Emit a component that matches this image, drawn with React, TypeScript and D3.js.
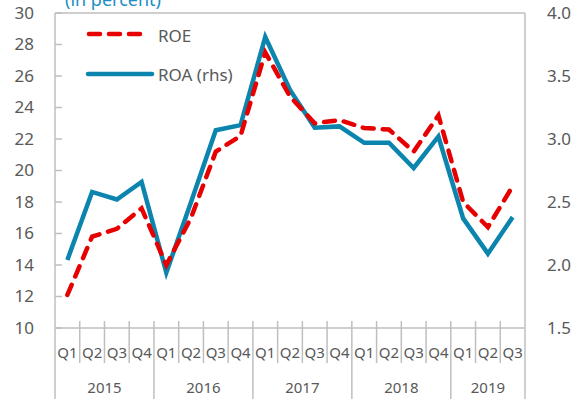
import React from "react";
import * as d3 from "d3";

const quarters = ["Q1","Q2","Q3","Q4","Q1","Q2","Q3","Q4","Q1","Q2","Q3","Q4","Q1","Q2","Q3","Q4","Q1","Q2","Q3"];
const years = ["2015","2016","2017","2018","2019"];
const yearCounts = [4,4,4,4,3];
const roe = [12.1,15.8,16.3,17.6,14.0,17.0,21.2,22.2,27.5,24.7,23.0,23.2,22.7,22.6,21.2,23.5,18.0,16.4,19.0];
const roa = [2.04,2.58,2.52,2.66,1.94,2.50,3.07,3.11,3.81,3.39,3.09,3.10,2.97,2.97,2.77,3.02,2.37,2.09,2.38];
const leftTicks = [10,12,14,16,18,20,22,24,26,28,30];
const rightTicks = [1.5,2.0,2.5,3.0,3.5,4.0];

const RED = "#E60000";
const BLUE = "#0B84AE";
const GRID = "#BFBFBF";
const TXT = "#595959";
const FONT = "'Noto Sans', 'Open Sans', sans-serif";

export default function App() {
  const W = 576, H = 405;
  const left = 55, right = 525, top = 13, bottom = 328;
  const x = d3.scaleBand<number>().domain(d3.range(quarters.length)).range([left, right]);
  const yL = d3.scaleLinear().domain([10, 30]).range([bottom, top]);
  const yR = d3.scaleLinear().domain([1.5, 4]).range([bottom, top]);
  const cx = (i: number) => (x(i) as number) + x.bandwidth() / 2;
  const lineL = d3.line<number>().x((_, i) => cx(i)).y((d) => yL(d));
  const lineR = d3.line<number>().x((_, i) => cx(i)).y((d) => yR(d));

  const yearBounds: number[] = [0];
  yearCounts.forEach((c, i) => yearBounds.push(yearBounds[i] + c));
  const xb = (k: number) => (k >= quarters.length ? right : (x(k) as number));

  return (
    <svg width={W} height={H} style={{ position: "absolute", left: 0, top: 0 }} fontFamily={FONT}>
      <rect width={W} height={H} fill="#fff" />
      <text x={65} y={6} fill="#1A8FC2" fontSize={18}>(in percent)</text>
      {/* frame */}
      <line x1={left} x2={right} y1={top} y2={top} stroke={GRID} strokeWidth={1.5} />
      <line x1={right} x2={right} y1={top} y2={bottom} stroke={GRID} strokeWidth={1.5} />
      <line x1={left} x2={left} y1={top} y2={bottom} stroke={GRID} strokeWidth={1.5} />
      <line x1={left} x2={right} y1={bottom} y2={bottom} stroke={GRID} strokeWidth={1.5} />
      {leftTicks.map((t) => (
        <g key={"l" + t}>
          <line x1={left} x2={left + 7} y1={yL(t)} y2={yL(t)} stroke={GRID} strokeWidth={1.5} />
          <text x={34} y={yL(t)} dy="0.35em" textAnchor="end" fill={TXT} fontSize={17}>{t}</text>
        </g>
      ))}
      {rightTicks.map((t) => (
        <text key={"r" + t} x={547} y={yR(t)} dy="0.35em" fill={TXT} fontSize={17}>{t.toFixed(1)}</text>
      ))}
      {/* quarter ticks */}
      {d3.range(1, quarters.length).filter((k) => !yearBounds.includes(k)).map((k) => (
        <line key={"q" + k} x1={xb(k)} x2={xb(k)} y1={321} y2={363} stroke={GRID} strokeWidth={1.5} />
      ))}
      {yearBounds.map((k) => (
        <line key={"y" + k} x1={xb(k)} x2={xb(k)} y1={k === 0 || k >= quarters.length ? bottom : 321} y2={399} stroke={GRID} strokeWidth={1.5} />
      ))}
      {quarters.map((q, i) => (
        <text key={"ql" + i} x={cx(i)} y={353} dy="0.35em" textAnchor="middle" fill={TXT} fontSize={15}>{q}</text>
      ))}
      {years.map((yv, j) => (
        <text key={"yl" + j} x={(xb(yearBounds[j]) + xb(yearBounds[j + 1])) / 2} y={388} dy="0.35em" textAnchor="middle" fill={TXT} fontSize={15}>{yv}</text>
      ))}
      {/* series */}
      <path d={lineR(roa) as string} fill="none" stroke={BLUE} strokeWidth={4.5} strokeLinejoin="miter" />
      <path d={lineL(roe) as string} fill="none" stroke={RED} strokeWidth={4.5} strokeDasharray="11,9" strokeLinecap="round" />
      {/* legend */}
      <line x1={89} x2={143} y1={34} y2={34} stroke={RED} strokeWidth={4.5} strokeDasharray="11,9" strokeLinecap="round" />
      <text x={158} y={36} dy="0.35em" fill={TXT} fontSize={17}>ROE</text>
      <line x1={88} x2={152} y1={74} y2={74} stroke={BLUE} strokeWidth={4.5} strokeLinecap="round" />
      <text x={158} y={75} dy="0.35em" fill={TXT} fontSize={17}>ROA (rhs)</text>
    </svg>
  );
}
